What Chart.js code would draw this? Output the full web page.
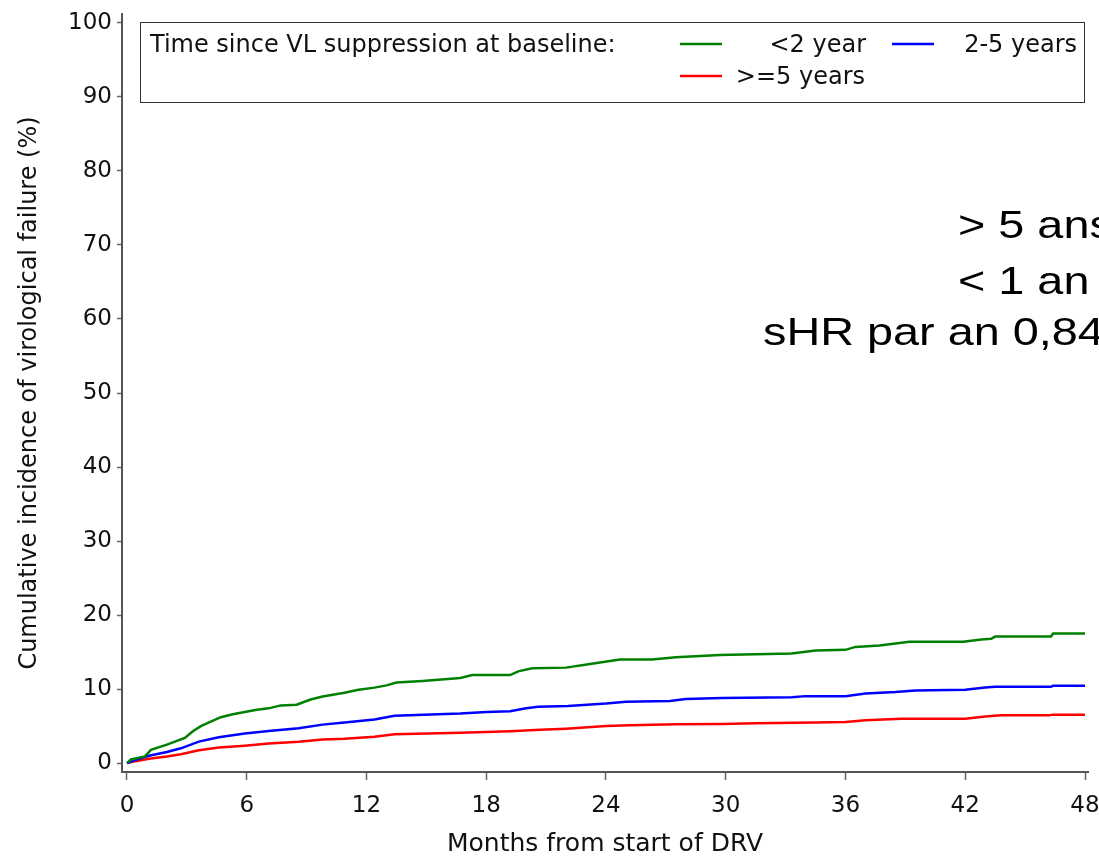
<!DOCTYPE html>
<html>
<head>
<meta charset="utf-8">
<script src="https://cdn.jsdelivr.net/npm/chart.js@4.4.1/dist/chart.umd.min.js"></script>
<style>
  body { margin: 0; background: #fff; }
  canvas { display: block; }
</style>
</head>
<body>
<canvas id="cifChart" width="1099" height="859"></canvas>
<script>
// tick labels
const xTicks = [0, 6, 12, 18, 24, 30, 36, 42, 48];
const yTicks = [0, 10, 20, 30, 40, 50, 60, 70, 80, 90, 100];

// series
const seriesLabels = ['<2 year', '2-5 years', '>=5 years'];

const greenMonths = [0, 0.2, 0.9, 1.2, 2.0, 2.6, 2.9, 3.3, 3.7, 4.2, 4.7, 5.3, 5.9, 6.5, 7.1, 7.7, 8.5, 9.2, 9.8, 10.9, 11.6, 12.4, 13.0, 13.5, 14.8, 16.7, 17.3, 19.2, 19.6, 20.3, 22.0, 23.2, 24.7, 26.3, 27.5, 29.7, 31.5, 33.3, 34.5, 36.0, 36.5, 37.7, 39.2, 41.9, 42.8, 43.3, 43.5, 46.3, 46.4, 48.0];
const greenValues = [0, 0.5, 0.9, 1.8, 2.5, 3.1, 3.4, 4.3, 5.0, 5.6, 6.2, 6.6, 6.9, 7.2, 7.4, 7.8, 7.9, 8.6, 9.0, 9.5, 9.9, 10.2, 10.5, 10.9, 11.1, 11.5, 11.9, 11.9, 12.4, 12.8, 12.9, 13.4, 14.0, 14.0, 14.3, 14.6, 14.7, 14.8, 15.2, 15.3, 15.7, 15.9, 16.4, 16.4, 16.7, 16.8, 17.1, 17.1, 17.5, 17.5];

const blueMonths = [0, 0.5, 1.1, 2.0, 2.7, 3.6, 4.6, 5.9, 7.1, 8.6, 9.8, 10.9, 12.4, 13.4, 16.7, 18.0, 19.2, 20.0, 20.6, 22.1, 24.0, 25.0, 27.2, 28.0, 29.8, 33.3, 34.0, 36.0, 37.0, 38.5, 39.5, 42.0, 43.0, 43.5, 46.3, 46.4, 48.0];
const blueValues = [0, 0.5, 1.0, 1.5, 2.0, 2.9, 3.5, 4.0, 4.35, 4.7, 5.2, 5.5, 5.9, 6.4, 6.7, 6.9, 7.0, 7.4, 7.6, 7.7, 8.05, 8.3, 8.4, 8.65, 8.8, 8.9, 9.05, 9.05, 9.4, 9.6, 9.8, 9.9, 10.2, 10.3, 10.3, 10.45, 10.45];

const redMonths = [0, 0.5, 1.1, 2.0, 2.7, 3.6, 4.6, 5.9, 7.1, 8.6, 9.8, 10.9, 12.4, 13.4, 16.7, 18.0, 19.2, 20.7, 22.0, 24.0, 25.2, 27.5, 29.8, 31.5, 34.5, 36.0, 37.0, 38.8, 42.0, 43.0, 43.8, 46.2, 46.4, 48.0];
const redValues = [0, 0.3, 0.6, 0.9, 1.2, 1.75, 2.1, 2.35, 2.65, 2.9, 3.2, 3.3, 3.55, 3.9, 4.1, 4.2, 4.3, 4.5, 4.65, 5.0, 5.1, 5.25, 5.3, 5.4, 5.5, 5.55, 5.8, 6.0, 6.0, 6.3, 6.45, 6.45, 6.55, 6.55];

const overlayLines = ['> 5 ans', '< 1 an', 'sHR par an 0,84'];

const toPoints = (xs, ys) => xs.map((x, i) => ({ x: x, y: ys[i] }));
const tickFont = { family: 'DejaVu Sans', size: 23 };
const titleFont = { family: 'DejaVu Sans', size: 24 };

// legend box drawn like the SAS inset, plus the slide's text on top
const insetLegend = {
    id: 'insetLegend',
    afterDraw(chart) {
        const ctx = chart.ctx;
        const ds = chart.data.datasets;
        ctx.save();
        ctx.strokeStyle = '#333';
        ctx.lineWidth = 1;
        ctx.strokeRect(140.5, 22.5, 944, 80);
        ctx.fillStyle = '#111';
        ctx.font = '24px "DejaVu Sans"';
        ctx.textBaseline = 'middle';
        ctx.textAlign = 'left';
        ctx.fillText('Time since VL suppression at baseline:', 150, 46);
        const items = [
            { line: 680, textRight: 866, y: 44 },
            { line: 892, textRight: 1077, y: 44 },
            { line: 680, textRight: 865, y: 76 }
        ];
        items.forEach((it, i) => {
            ctx.strokeStyle = ds[i].borderColor;
            ctx.lineWidth = 2.5;
            ctx.beginPath();
            ctx.moveTo(it.line, it.y);
            ctx.lineTo(it.line + 42, it.y);
            ctx.stroke();
            ctx.textAlign = 'right';
            ctx.fillText(ds[i].label, it.textRight, it.y + 2);
        });
        // overlay annotation (stretched sideways like on the slide)
        ctx.fillStyle = '#000';
        ctx.font = '39px "Liberation Sans"';
        ctx.textAlign = 'left';
        ctx.textBaseline = 'alphabetic';
        ctx.scale(1.2, 1);
        ctx.fillText(overlayLines[0], 958 / 1.2, 238);
        ctx.fillText(overlayLines[1], 958 / 1.2, 294);
        ctx.fillText(overlayLines[2], 763 / 1.2, 345);
        ctx.restore();
    }
};

const makeSet = (label, xs, ys, color) => ({
    label: label,
    data: toPoints(xs, ys),
    borderColor: color,
    borderWidth: 2.5,
    pointRadius: 0,
    tension: 0,
    fill: false
});

const ctx = document.getElementById('cifChart').getContext('2d');
const cifChart = new Chart(ctx, {
    type: 'line',
    data: {
        datasets: [
            makeSet(seriesLabels[0], greenMonths, greenValues, '#008000'),
            makeSet(seriesLabels[1], blueMonths, blueValues, '#0000ff'),
            makeSet(seriesLabels[2], redMonths, redValues, '#ff0000')
        ]
    },
    options: {
        responsive: false,
        animation: false,
        layout: { padding: { left: 0, top: 14, right: 11, bottom: 0 } },
        plugins: { legend: { display: false }, tooltip: { enabled: false } },
        scales: {
            x: {
                type: 'linear',
                min: -0.25,
                max: 48.15,
                afterBuildTicks: s => { s.ticks = xTicks.map(v => ({ value: v })); },
                afterFit: s => { s.height = 87; s.paddingLeft = 0; s.paddingRight = 0; },
                grid: { drawOnChartArea: false, drawTicks: true, tickLength: 8, color: '#666', tickWidth: 1.5 },
                border: { display: true, color: '#555', width: 2 },
                ticks: { font: tickFont, color: '#111', padding: 12, maxRotation: 0 },
                title: {
                    display: true,
                    text: 'Months from start of DRV',
                    font: { family: 'DejaVu Sans', size: 25 },
                    color: '#111',
                    padding: { top: 0, bottom: 0 }
                }
            },
            y: {
                min: -1.2,
                max: 101.2,
                afterBuildTicks: s => { s.ticks = yTicks.map(v => ({ value: v })); },
                afterFit: s => { s.width = 122; s.paddingTop = 0; s.paddingBottom = 0; },
                grid: { drawOnChartArea: false, drawTicks: true, tickLength: 5, color: '#666', tickWidth: 1.5 },
                border: { display: true, color: '#555', width: 2 },
                ticks: { font: tickFont, color: '#111', padding: 5 },
                title: {
                    display: true,
                    text: 'Cumulative incidence of virological failure (%)',
                    font: titleFont,
                    color: '#111',
                    padding: { top: 15, bottom: 0 }
                }
            }
        }
    },
    plugins: [insetLegend]
});
</script>
</body>
</html>
